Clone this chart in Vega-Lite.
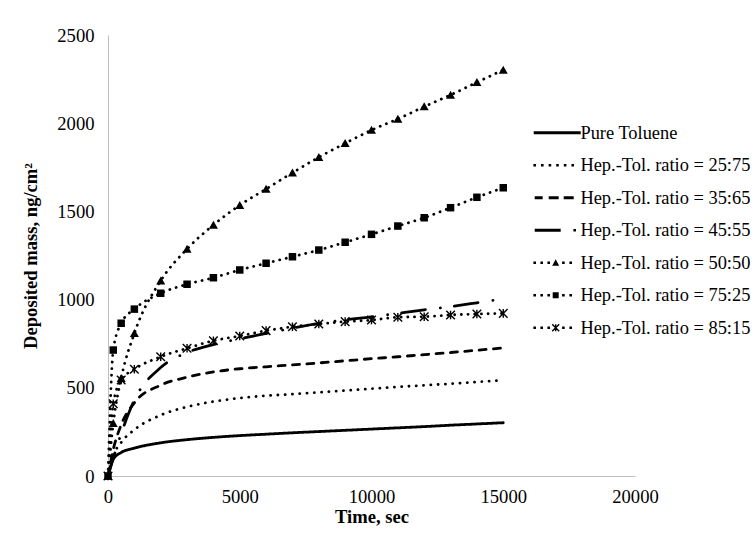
{
  "$schema": "https://vega.github.io/schema/vega-lite/v6.json",
  "width": 527,
  "height": 441,
  "autosize": {"type": "none"},
  "padding": {"left": 108, "top": 35, "right": 121, "bottom": 66},
  "background": "white",
  "config": {
    "view": {"stroke": null},
    "font": "Liberation Serif",
    "axis": {
      "grid": false,
      "ticks": false,
      "tickSize": 0,
      "domainColor": "#bfbfbf",
      "domainWidth": 1,
      "labelFlush": false,
      "labelOverlap": false,
      "labelFont": "Liberation Serif",
      "labelFontSize": 18.6,
      "labelColor": "black",
      "titleFont": "Liberation Serif",
      "titleFontSize": 18.6,
      "titleFontWeight": "bold",
      "titleColor": "black"
    }
  },
  "data": {
    "values": [
      {"t": 0, "Pure Toluene": 0, "25:75": 0, "35:65": 0, "45:55": 0, "50:50": 0, "75:25": 0, "85:15": 0},
      {"t": 200, "Pure Toluene": 95, "25:75": 115, "35:65": 150, "45:55": 100, "50:50": 299, "75:25": 714, "85:15": 410},
      {"t": 500, "Pure Toluene": 133, "25:75": 190, "35:65": 290, "45:55": 240, "50:50": 554, "75:25": 866, "85:15": 544},
      {"t": 1000, "Pure Toluene": 158, "25:75": 262, "35:65": 415, "45:55": 430, "50:50": 809, "75:25": 946, "85:15": 605},
      {"t": 2000, "Pure Toluene": 188, "25:75": 345, "35:65": 515, "45:55": 615, "50:50": 1107, "75:25": 1036, "85:15": 676},
      {"t": 3000, "Pure Toluene": 206, "25:75": 392, "35:65": 560, "45:55": 700, "50:50": 1287, "75:25": 1087, "85:15": 724},
      {"t": 4000, "Pure Toluene": 219, "25:75": 422, "35:65": 590, "45:55": 745, "50:50": 1423, "75:25": 1124, "85:15": 767},
      {"t": 5000, "Pure Toluene": 229, "25:75": 442, "35:65": 608, "45:55": 778, "50:50": 1535, "75:25": 1168, "85:15": 794},
      {"t": 6000, "Pure Toluene": 237, "25:75": 455, "35:65": 619, "45:55": 808, "50:50": 1627, "75:25": 1206, "85:15": 824},
      {"t": 7000, "Pure Toluene": 245, "25:75": 464, "35:65": 630, "45:55": 838, "50:50": 1719, "75:25": 1243, "85:15": 846},
      {"t": 8000, "Pure Toluene": 252, "25:75": 474, "35:65": 641, "45:55": 865, "50:50": 1807, "75:25": 1281, "85:15": 862},
      {"t": 9000, "Pure Toluene": 259, "25:75": 485, "35:65": 653, "45:55": 885, "50:50": 1886, "75:25": 1325, "85:15": 875},
      {"t": 10000, "Pure Toluene": 266, "25:75": 495, "35:65": 665, "45:55": 902, "50:50": 1961, "75:25": 1370, "85:15": 884},
      {"t": 11000, "Pure Toluene": 273, "25:75": 505, "35:65": 676, "45:55": 922, "50:50": 2024, "75:25": 1417, "85:15": 900},
      {"t": 12000, "Pure Toluene": 280, "25:75": 514, "35:65": 688, "45:55": 942, "50:50": 2094, "75:25": 1464, "85:15": 903},
      {"t": 13000, "Pure Toluene": 288, "25:75": 523, "35:65": 700, "45:55": 960, "50:50": 2160, "75:25": 1521, "85:15": 913},
      {"t": 14000, "Pure Toluene": 295, "25:75": 533, "35:65": 713, "45:55": 982, "50:50": 2232, "75:25": 1580, "85:15": 918},
      {"t": 15000, "Pure Toluene": 302, "25:75": 544, "35:65": 726, "45:55": 1005, "50:50": 2302, "75:25": 1634, "85:15": 922}
    ]
  },
  "transform": [
    {"fold": ["Pure Toluene", "25:75", "35:65", "45:55", "50:50", "75:25", "85:15"], "as": ["s", "m"]}
  ],
  "encoding": {
    "x": {
      "field": "t",
      "type": "quantitative",
      "title": "Time, sec",
      "scale": {"domain": [0, 20000], "nice": false},
      "axis": {"values": [0, 5000, 10000, 15000, 20000], "format": "d", "labelPadding": 11, "titlePadding": 2}
    },
    "y": {
      "field": "m",
      "type": "quantitative",
      "title": "Deposited mass, ng/cm²",
      "scale": {"domain": [0, 2500], "nice": false},
      "axis": {"values": [0, 500, 1000, 1500, 2000, 2500], "format": "d", "labelPadding": 14, "titlePadding": 16}
    }
  },
  "layer": [
    {
      "mark": {"type": "line", "interpolate": "monotone", "color": "black", "strokeWidth": 2.8, "strokeCap": "round"},
      "encoding": {
        "detail": {"field": "s", "type": "nominal"},
        "strokeDash": {
          "field": "s",
          "type": "nominal",
          "scale": {
            "domain": ["Pure Toluene", "25:75", "35:65", "45:55", "50:50", "75:25", "85:15"],
            "range": [[1, 0], [0.1, 7.2], [7, 7.4], [24, 15, 0.1, 14], [0.1, 6.6], [0.1, 6.6], [0.1, 6.6]]
          },
          "legend": null
        }
      }
    },
    {
      "transform": [{"filter": {"field": "s", "oneOf": ["50:50", "75:25", "85:15"]}}],
      "mark": {"type": "point", "filled": true, "color": "black", "opacity": 1, "size": 100},
      "encoding": {
        "shape": {
          "field": "s",
          "type": "nominal",
          "scale": {
            "domain": ["50:50", "75:25", "85:15"],
            "range": [
              "M0,-0.85L0.9,0.75L-0.9,0.75Z",
              "M-0.75,-0.75H0.75V0.75H-0.75Z",
              "M-0.76,-0.96L0.96,0.76L0.76,0.96L-0.96,-0.76ZM-0.76,0.96L-0.96,0.76L0.76,-0.96L0.96,-0.76ZM-0.14,-0.86L0.14,-0.86L0.14,0.86L-0.14,0.86Z"
            ]
          },
          "legend": null
        }
      }
    },
    {
      "transform": [{"filter": "false"}],
      "mark": {"type": "point", "filled": true, "color": "black", "opacity": 1},
      "encoding": {
        "shape": {
          "field": "s",
          "type": "nominal",
          "scale": {
            "domain": ["Pure Toluene", "25:75", "35:65", "45:55", "50:50", "75:25", "85:15"],
            "range": [
              "M-1,-0.2H5.27V0.2H-1Z",
              "M-1.04,-0.173H-0.694V0.173H-1.04ZM-0.026,-0.173H0.32V0.173H-0.026ZM0.987,-0.173H1.333V0.173H0.987ZM2,-0.173H2.346V0.173H2ZM3.014,-0.173H3.36V0.173H3.014ZM4.027,-0.173H4.373V0.173H4.027Z",
              "M-0.867,-0.2H0.2V0.2H-0.867ZM1,-0.2H2.333V0.2H1ZM3,-0.2H4.333V0.2H3Z",
              "M-0.867,-0.2H2.6V0.2H-0.867ZM4.294,-0.173H4.64V0.173H4.294Z",
              "M-1.04,-0.173H-0.694V0.173H-1.04ZM-0.106,-0.173H0.24V0.173H-0.106ZM0.827,-0.173H1.173V0.173H0.827ZM1.933,-0.467L2.4,0.4L1.466,0.4ZM2.787,-0.173H3.133V0.173H2.787ZM3.76,-0.173H4.106V0.173H3.76Z",
              "M-1.04,-0.173H-0.694V0.173H-1.04ZM-0.106,-0.173H0.24V0.173H-0.106ZM0.827,-0.173H1.173V0.173H0.827ZM1.533,-0.4H2.333V0.4H1.533ZM2.787,-0.173H3.133V0.173H2.787ZM3.76,-0.173H4.106V0.173H3.76Z",
              "M-1.04,-0.173H-0.694V0.173H-1.04ZM-0.106,-0.173H0.24V0.173H-0.106ZM0.827,-0.173H1.173V0.173H0.827ZM1.533,-0.533L2.466,0.401L2.334,0.533L1.401,-0.401ZM1.533,0.533L1.401,0.401L2.334,-0.533L2.466,-0.401ZM1.84,-0.467L2.027,-0.467L2.027,0.467L1.84,0.467ZM2.787,-0.173H3.133V0.173H2.787ZM3.76,-0.173H4.106V0.173H3.76Z"
            ]
          },
          "legend": {
            "title": null,
            "orient": "none",
            "legendX": 424,
            "legendY": 88.6,
            "padding": 0,
            "symbolSize": 225,
            "symbolFillColor": "black",
            "symbolStrokeWidth": 0,
            "labelOffset": 30,
            "rowPadding": 13.5,
            "labelFont": "Liberation Serif",
            "labelFontSize": 18.4,
            "labelColor": "black",
            "labelLimit": 0,
            "labelExpr": "datum.label == 'Pure Toluene' ? datum.label : 'Hep.-Tol. ratio = ' + datum.label"
          }
        }
      }
    }
  ],
  "resolve": {"scale": {"shape": "independent"}, "legend": {"shape": "independent"}}
}
